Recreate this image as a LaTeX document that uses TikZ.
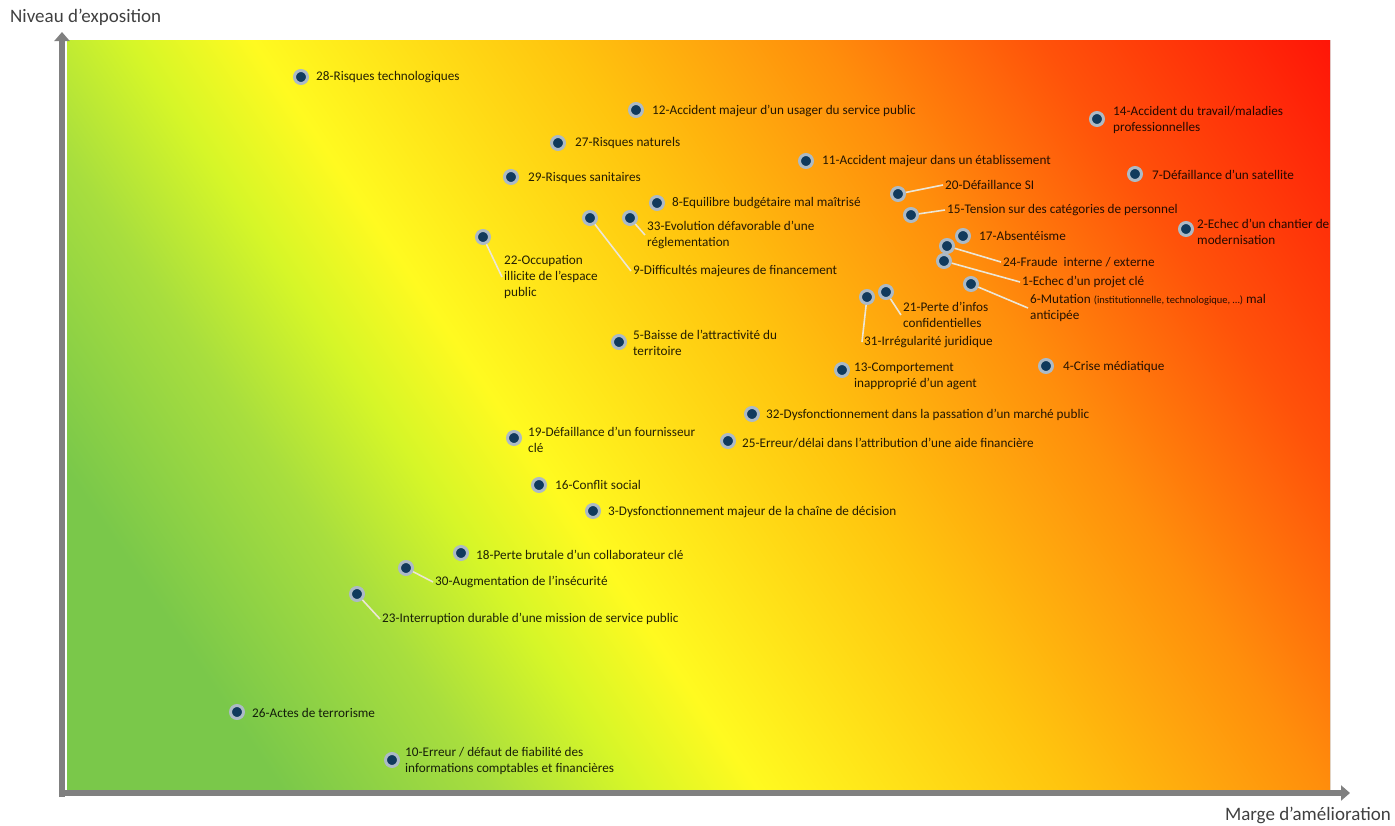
\documentclass[tikz,border=0pt]{standalone}
\usepackage{fontspec}
\setmainfont{Carlito}
\usetikzlibrary{arrows.meta}
\definecolor{rgreen}{RGB}{122,200,74}
\definecolor{rlgreen}{RGB}{168,222,62}
\definecolor{rygreen}{RGB}{214,246,40}
\definecolor{ryellow}{RGB}{255,250,32}
\definecolor{rorangey}{RGB}{255,196,14}
\definecolor{rorange}{RGB}{255,142,12}
\definecolor{rredor}{RGB}{255,82,10}
\definecolor{rred}{RGB}{255,22,8}
\definecolor{riskdot}{RGB}{16,58,92}
\definecolor{riskhalo}{RGB}{172,186,198}
\definecolor{leadgray}{RGB}{236,230,214}
\definecolor{axisgray}{RGB}{128,128,128}
\definecolor{axistext}{RGB}{64,64,64}
\pgfdeclarehorizontalshading{riskgrad}{100bp}{color(0bp)=(rgreen); color(25bp)=(rgreen); color(31bp)=(rgreen); color(37bp)=(rlgreen); color(41bp)=(rygreen); color(44.5bp)=(ryellow); color(53.3bp)=(rorangey); color(60.6bp)=(rorange); color(66.9bp)=(rredor); color(75bp)=(rred); color(100bp)=(rred)}
\tikzstyle{risk} = [circle, minimum size=13pt, inner sep=0pt, fill=riskdot, draw=riskhalo, line width=3pt]
\tikzstyle{risktext} = [anchor=west, inner sep=2pt, text=black, text opacity=0.86, font=\fontsize{13.2}{16}\selectfont, align=left]
\tikzstyle{leader} = [draw=leadgray, line width=1.6pt]
\tikzstyle{axisline} = [line width=6pt, draw=axisgray, -{Triangle[length=9pt,width=15pt]}]
\tikzstyle{axislabel} = [text=axistext, font=\fontsize{19}{22}\selectfont, inner sep=0pt]

\begin{document}
\begin{tikzpicture}[x=1pt, y=-1pt]
					\useasboundingbox (0,0) rectangle (1395,825);
					\begin{scope}
					\clip (67,40) rectangle (1330,790);
					\fill[shading=riskgrad, shading angle=34] (-34.5,-318) rectangle (1431.5,1148);
					\end{scope}
					\coordinate (origin) at (62,797);
					\coordinate (ytop) at (62,32);
					\coordinate (xorigin) at (59,793);
					\coordinate (xend) at (1350,793);
					\draw[axisline] (origin) -- (ytop);
					\draw[axisline] (xorigin) -- (xend);
					\node[axislabel, anchor=west] (ylab) at (10,17) {Niveau d’exposition};
					\node[axislabel, anchor=east] (xlab) at (1391,815) {Marge d’amélioration};
					\node[risk] (r28) at (301,77) {};
					\node[risk] (r12) at (636,110) {};
					\node[risk] (r27) at (558,143) {};
					\node[risk] (r11) at (806,161) {};
					\node[risk] (r29) at (511,177) {};
					\node[risk] (r14) at (1097,119) {};
					\node[risk] (r7) at (1135,174) {};
					\node[risk] (r20) at (898,194) {};
					\node[risk] (r15) at (911,215) {};
					\node[risk] (r8) at (657,203) {};
					\node[risk] (r33) at (630,218) {};
					\node[risk] (r9) at (590,218) {};
					\node[risk] (r22) at (483,237) {};
					\node[risk] (r17) at (963,236) {};
					\node[risk] (r24) at (947,246) {};
					\node[risk] (r1) at (944,261) {};
					\node[risk] (r6) at (971,284) {};
					\node[risk] (r2) at (1186,229) {};
					\node[risk] (r21) at (886,292) {};
					\node[risk] (r31) at (867,297) {};
					\node[risk] (r5) at (619,342) {};
					\node[risk] (r13) at (842,370) {};
					\node[risk] (r4) at (1046,366) {};
					\node[risk] (r32) at (752,414) {};
					\node[risk] (r19) at (514,438) {};
					\node[risk] (r25) at (728,441) {};
					\node[risk] (r16) at (539,485) {};
					\node[risk] (r3) at (593,511) {};
					\node[risk] (r18) at (461,553) {};
					\node[risk] (r30) at (406,568) {};
					\node[risk] (r23) at (357,594) {};
					\node[risk] (r26) at (237,712) {};
					\node[risk] (r10) at (392,760) {};
					\node[risktext] (t28) at (314,77) {28-Risques technologiques};
					\node[risktext] (t12) at (650,111) {12-Accident majeur d’un usager du service public};
					\node[risktext] (t27) at (573,143) {27-Risques naturels};
					\node[risktext] (t11) at (820,161) {11-Accident majeur dans un établissement};
					\node[risktext] (t29) at (526,178) {29-Risques sanitaires};
					\node[risktext] (t14) at (1111,120) {14-Accident du travail/maladies\\professionnelles};
					\node[risktext] (t7) at (1150,175) {7-Défaillance d’un satellite};
					\node[risktext] (t20) at (943,185) {20-Défaillance SI};
					\node[risktext] (t15) at (945,210) {15-Tension sur des catégories de personnel};
					\node[risktext] (t8) at (670,203) {8-Equilibre budgétaire mal maîtrisé};
					\node[risktext] (t33) at (645,235) {33-Evolution défavorable d’une\\réglementation};
					\node[risktext] (t9) at (631,271) {9-Difficultés majeures de financement};
					\node[risktext] (t22) at (502,277) {22-Occupation\\illicite de l’espace\\public};
					\node[risktext] (t17) at (977,236) {17-Absentéisme};
					\node[risktext] (t24) at (1001,262) {24-Fraude~ interne / externe};
					\node[risktext] (t1) at (1020,282) {1-Echec d’un projet clé};
					\node[risktext] (t6) at (1028,308) {6-Mutation {\fontsize{10.5}{12}\selectfont(institutionnelle, technologique, …)} mal\\anticipée};
					\node[risktext] (t2) at (1195,232) {2-Echec d’un chantier de\\modernisation};
					\node[risktext] (t21) at (901,315) {21-Perte d’infos\\confidentielles};
					\node[risktext] (t31) at (862,342) {31-Irrégularité juridique};
					\node[risktext] (t5) at (631,343) {5-Baisse de l’attractivité du\\territoire};
					\node[risktext] (t13) at (852,376) {13-Comportement\\inapproprié d’un agent};
					\node[risktext] (t4) at (1061,367) {4-Crise médiatique};
					\node[risktext] (t32) at (764,415) {32-Dysfonctionnement dans la passation d’un marché public};
					\node[risktext] (t19) at (526,440) {19-Défaillance d’un fournisseur\\clé};
					\node[risktext] (t25) at (740,443) {25-Erreur/délai dans l’attribution d’une aide financière};
					\node[risktext] (t16) at (553,485) {16-Conflit social};
					\node[risktext] (t3) at (606,512) {3-Dysfonctionnement majeur de la chaîne de décision};
					\node[risktext] (t18) at (474,555) {18-Perte brutale d’un collaborateur clé};
					\node[risktext] (t30) at (433,582) {30-Augmentation de l’insécurité};
					\node[risktext] (t23) at (380,619) {23-Interruption durable d’une mission de service public};
					\node[risktext] (t26) at (250,713) {26-Actes de terrorisme};
					\node[risktext] (t10) at (403,761) {10-Erreur / défaut de fiabilité des\\informations comptables et financières};
					\draw[leader] (r20) -- (t20.west);
					\draw[leader] (r15) -- (t15.west);
					\draw[leader] (r24) -- (t24.west);
					\draw[leader] (r1) -- (t1.west);
					\draw[leader] (r6) -- (t6.west);
					\draw[leader] (r21) -- (t21.west);
					\draw[leader] (r31) -- (t31.west);
					\draw[leader] (r33) -- (t33.west);
					\draw[leader] (r9) -- (t9.west);
					\draw[leader] (r22) -- (t22.west);
					\draw[leader] (r30) -- (t30.west);
					\draw[leader] (r23) -- (t23.west);
				\end{tikzpicture}
\end{document}
